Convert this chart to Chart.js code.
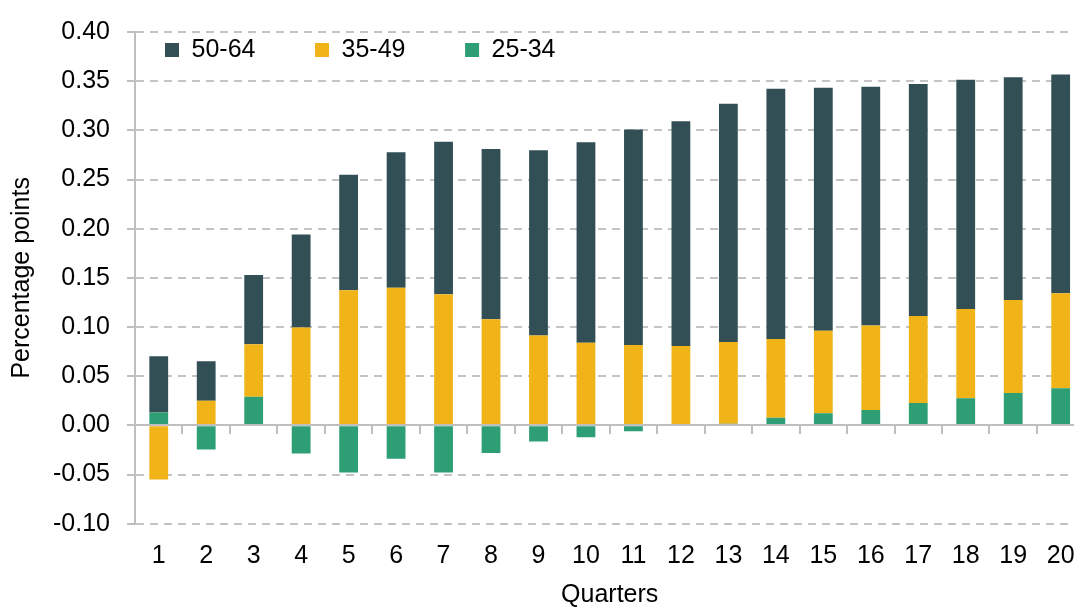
<!DOCTYPE html>
<html>
<head>
<meta charset="utf-8">
<script src="https://cdn.jsdelivr.net/npm/chart.js@4"></script>
<style>
  html, body { margin: 0; padding: 0; background: #fff; overflow: hidden; }
  #wrap { width: 1100px; height: 609px; }
</style>
</head>
<body>
<div id="wrap"><canvas id="c" width="1100" height="609"></canvas></div>
<script>
const categories = ['1','2','3','4','5','6','7','8','9','10','11','12','13','14','15','16','17','18','19','20'];
const seriesNames = ['25-34', '35-49', '50-64'];
const age25to34 = [0.013, -0.0245, 0.029, -0.0286, -0.048, -0.034, -0.048, -0.028, -0.0165, -0.012, -0.006, 0.0, 0.0016, 0.0077, 0.0124, 0.0157, 0.0227, 0.0275, 0.0328, 0.0378];
const age35to49 = [-0.055, 0.025, 0.0535, 0.0996, 0.1374, 0.140, 0.1334, 0.108, 0.0915, 0.0841, 0.0818, 0.0808, 0.0832, 0.0801, 0.0838, 0.0859, 0.0886, 0.0908, 0.0946, 0.0966];
const age50to64 = [0.0573, 0.0402, 0.0705, 0.0944, 0.1174, 0.1377, 0.155, 0.173, 0.1882, 0.2039, 0.219, 0.2284, 0.2422, 0.2546, 0.2472, 0.2428, 0.2358, 0.2331, 0.2267, 0.2223];
const yTickMin = -0.10, yTickMax = 0.40, yTickStep = 0.05;

const colors = ['#2E9E74', '#F0B419', '#324F55'];
const gridColor = '#c4c4c4';
const axisColor = '#bfbfbf';
const FS = 25;

Chart.defaults.font.family = "'Liberation Sans', Arial, sans-serif";
Chart.defaults.color = '#000';

const zeroLinePlugin = {
  id: 'zeroLine',
  beforeDraw(chart) {
    const lg = chart.legend;
    if (lg) {
      const pad = lg.options.labels.padding;
      lg.left = 165 - pad;
      lg.top = 37.5 - pad;
      lg.right = chart.width;
      lg.bottom = lg.top + pad + 60;
      lg.width = lg.right - lg.left;
      lg.height = lg.bottom - lg.top;
    }
  },
  afterDatasetsDraw(chart) {
    const {ctx, chartArea, scales} = chart;
    const y0 = Math.round(scales.y.getPixelForValue(0));
    ctx.save();
    ctx.strokeStyle = axisColor;
    ctx.lineWidth = 2;
    ctx.setLineDash([]);
    ctx.beginPath();
    ctx.moveTo(chartArea.left, y0);
    ctx.lineTo(chartArea.right, y0);
    const n = categories.length;
    for (let i = 1; i <= n; i++) {
      const xb = Math.round(i < n ? (scales.x.getPixelForValue(i - 1) + scales.x.getPixelForValue(i)) / 2 : chartArea.right);
      ctx.moveTo(xb, y0);
      ctx.lineTo(xb, y0 + 9);
    }
    ctx.stroke();
    ctx.restore();
  }
};

const datasets = [age25to34, age35to49, age50to64].map((d, i) => ({
  label: seriesNames[i],
  data: d,
  backgroundColor: colors[i],
  borderWidth: 0,
  categoryPercentage: 1.0,
  barPercentage: 0.396
}));

new Chart(document.getElementById('c'), {
  type: 'bar',
  data: { labels: categories, datasets },
  options: {
    responsive: false,
    animation: false,
    devicePixelRatio: 1,
    layout: { padding: { top: 25.7, right: 15.6, bottom: 0, left: 0 } },
    plugins: {
      legend: {
        position: 'top',
        align: 'start',
        reverse: true,
        maxHeight: 1,
        labels: {
          boxWidth: 14,
          boxHeight: 14,
          padding: 59.6,
          font: { size: FS },
          color: '#000'
        }
      },
      tooltip: { enabled: false }
    },
    scales: {
      x: {
        stacked: true,
        grid: { display: false, drawTicks: false },
        border: { display: false },
        ticks: { font: { size: FS }, padding: 17.6, color: '#000', maxRotation: 0 },
        title: { display: true, text: 'Quarters', font: { size: FS }, color: '#000', padding: { top: 0, bottom: -1 } },
        afterFit(scale) { scale.height = 85.3; }
      },
      y: {
        stacked: true,
        min: yTickMin,
        max: yTickMax,
        ticks: {
          stepSize: yTickStep,
          font: { size: FS },
          padding: 17,
          color: '#000',
          callback: (v) => Number(v).toFixed(2)
        },
        grid: {
          color: (ctx) => (ctx.tick && Math.abs(ctx.tick.value) < 1e-9) ? 'rgba(0,0,0,0)' : gridColor,
          lineWidth: 2,
          tickLength: 8,
          tickColor: axisColor,
          tickWidth: 2,
          tickBorderDash: []
        },
        border: { display: true, color: axisColor, width: 2, dash: [8, 6] },
        title: { display: true, text: 'Percentage points', font: { size: FS }, color: '#000', padding: { top: 7, bottom: 0 } },
        afterFit(scale) { scale.width = 135; }
      }
    }
  },
  plugins: [zeroLinePlugin]
});
</script>
</body>
</html>
